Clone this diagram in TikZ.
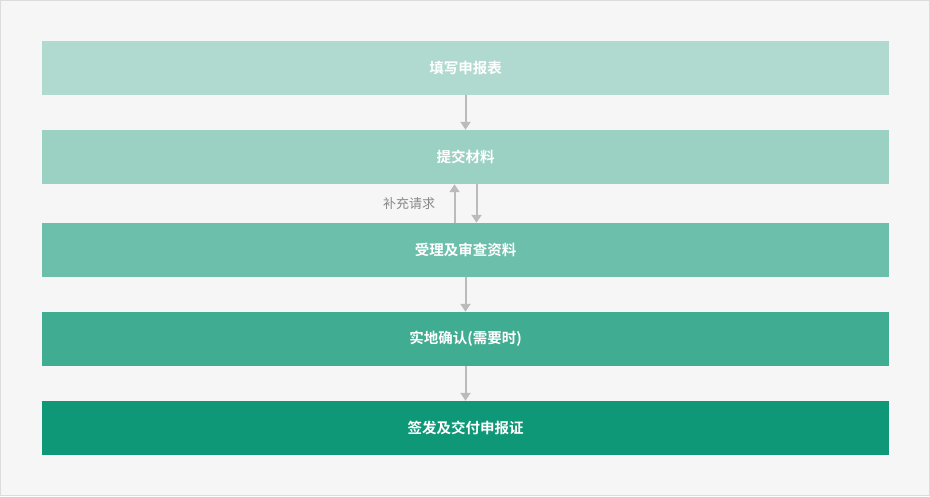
\documentclass[tikz,border=0pt]{standalone}
\usepackage{fontspec}
\setmainfont{Noto Sans CJK SC}
\newfontfamily\cjkbold{Noto Sans CJK SC Bold}
\usetikzlibrary{arrows.meta}
\definecolor{pagebg}{HTML}{F6F6F6}
\definecolor{pageline}{HTML}{DCDCDC}
\definecolor{stepa}{HTML}{B0DAD0}
\definecolor{stepb}{HTML}{9BD1C3}
\definecolor{stepc}{HTML}{6BBFAB}
\definecolor{stepd}{HTML}{40AC92}
\definecolor{stepe}{HTML}{0F9878}
\definecolor{arrowgray}{HTML}{BBBBBB}
\definecolor{notegray}{HTML}{888888}
\tikzset{
  stepbox/.style={minimum width=847pt,minimum height=54pt,inner sep=0pt,
    text=white,font=\cjkbold\fontsize{14.5}{16}\selectfont},
  flow/.style={arrowgray,line width=2pt,-{Triangle[width=10pt,length=8pt]}}
}
\begin{document}
\begin{tikzpicture}[x=1pt,y=-1pt]
\useasboundingbox (0,0) rectangle (930,496);
\draw[pageline,fill=pagebg] (0.5,0.5) rectangle (929.5,495.5);
\node[stepbox,fill=stepa] (fill) at (465.5,68) {填写申报表};
\node[stepbox,fill=stepb] (submit) at (465.5,157) {提交材料};
\node[stepbox,fill=stepc] (accept) at (465.5,250) {受理及审查资料};
\node[stepbox,fill=stepd] (visit) at (465.5,339) {实地确认(需要时)};
\node[stepbox,fill=stepe] (issue) at (465.5,428) {签发及交付申报证};
\draw[flow] (fill) -- (submit);
\draw[flow] ([xshift=-11pt]accept.north) -- ([xshift=-11pt]submit.south)
  node[midway,left=15pt,text=notegray,font=\fontsize{13}{15}\selectfont] {补充请求};
\draw[flow] ([xshift=11pt]submit.south) -- ([xshift=11pt]accept.north);
\draw[flow] (accept) -- (visit);
\draw[flow] (visit) -- (issue);
\end{tikzpicture}
\end{document}
